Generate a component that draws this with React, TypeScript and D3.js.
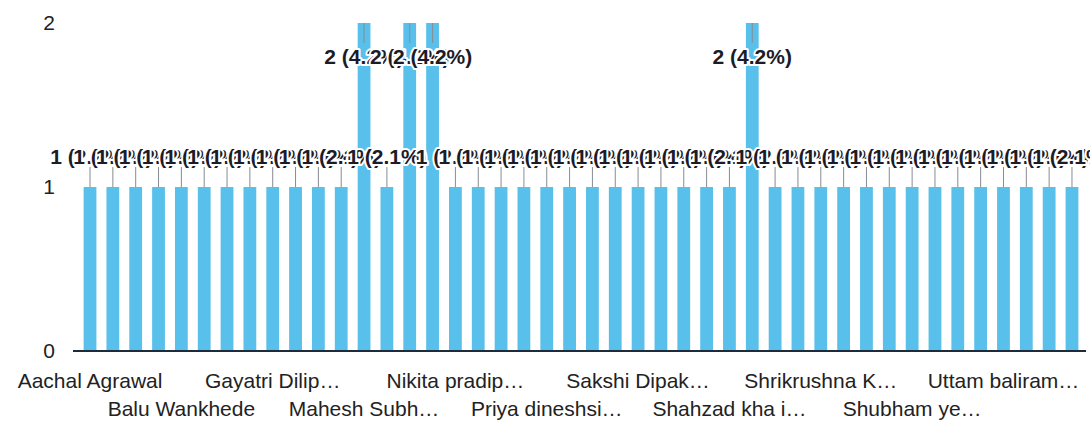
import React, { useEffect, useRef } from "react";
import * as d3 from "d3";

// one bar per person, only every 4th name is shown on the axis
const counts = [
  1, 1, 1, 1, 1, 1, 1, 1, 1, 1, 1, 1, 2, 1, 2, 2, 1, 1, 1, 1, 1, 1,
  1, 1, 1, 1, 1, 1, 1, 2, 1, 1, 1, 1, 1, 1, 1, 1, 1, 1, 1, 1, 1, 1,
];
const tickLabels = [
  "Aachal Agrawal",
  "Balu Wankhede",
  "Gayatri Dilip…",
  "Mahesh Subh…",
  "Nikita pradip…",
  "Priya dineshsi…",
  "Sakshi Dipak…",
  "Shahzad kha i…",
  "Shrikrushna K…",
  "Shubham ye…",
  "Uttam baliram…",
];
const yTicks = [0, 1, 2];

const App = () => {
  const svgRef = useRef<SVGSVGElement>(null);

  useEffect(() => {
    const width = 1090, height = 423;
    const font = "'Liberation Sans', Arial, sans-serif";
    const total = d3.sum(counts);

    const svg = d3.select(svgRef.current)
      .attr("width", width)
      .attr("height", height);

    svg.selectAll("*").remove();

    const x = d3.scaleBand<number>()
      .domain(d3.range(counts.length))
      .range([78.6, 1083.4])
      .paddingInner(0.44)
      .paddingOuter(0.22);

    const y = d3.scaleLinear()
      .domain([0, 2])
      .range([351, 23]);

    // y axis: just the numbers
    const yAxis = svg.append("g")
      .attr("transform", "translate(62,0)")
      .call(d3.axisLeft(y).tickValues(yTicks).tickFormat(d3.format("d")).tickSize(0).tickPadding(7));
    yAxis.select(".domain").remove();
    yAxis.selectAll("text")
      .attr("font-family", font)
      .attr("font-size", 21)
      .attr("fill", "#222");

    // x axis labels, alternating in two rows
    const xAxis = svg.append("g")
      .attr("transform", `translate(0,${y(0)})`)
      .call(d3.axisBottom(x)
        .tickValues(d3.range(0, counts.length, 4))
        .tickFormat((d) => tickLabels[d / 4])
        .tickSize(0));
    xAxis.select(".domain").remove();
    xAxis.selectAll("text")
      .attr("font-family", font)
      .attr("font-size", 21)
      .attr("fill", "#222")
      .attr("dy", null)
      .attr("y", (d: any) => ((d / 4) % 2 === 0 ? 37 : 65));

    svg.append("g")
      .selectAll("rect")
      .data(counts)
      .enter()
      .append("rect")
      .attr("x", (d, i) => x(i)!)
      .attr("y", (d) => y(d))
      .attr("width", x.bandwidth())
      .attr("height", (d) => y(0) - y(d))
      .attr("fill", "#58c0ea");

    // baseline
    svg.append("line")
      .attr("x1", 73)
      .attr("x2", 1086)
      .attr("y1", y(0))
      .attr("y2", y(0))
      .attr("stroke", "#1e2b3a")
      .attr("stroke-width", 2);

    // labels go above the bar, or inside it if there is no room up top
    const inside = (d: number) => y(d) - 40 < 0;
    const cx = (i: number) => x(i)! + x.bandwidth() / 2;

    svg.append("g")
      .selectAll("line")
      .data(counts)
      .enter()
      .append("line")
      .attr("x1", (d, i) => cx(i))
      .attr("x2", (d, i) => cx(i))
      .attr("y1", (d) => (inside(d) ? y(d) : y(d) - 20))
      .attr("y2", (d) => (inside(d) ? y(d) + 20 : y(d)))
      .attr("stroke", "#878c93")
      .attr("stroke-width", 1);

    svg.append("g")
      .selectAll("text")
      .data(counts)
      .enter()
      .append("text")
      .attr("x", (d, i) => cx(i))
      .attr("y", (d) => (inside(d) ? y(d) + 41 : y(d) - 23))
      .attr("text-anchor", "middle")
      .attr("font-family", font)
      .attr("font-size", 21)
      .attr("font-weight", "bold")
      .attr("fill", "#1c1c28")
      .attr("stroke", "#fff")
      .attr("stroke-width", 4)
      .attr("stroke-linejoin", "round")
      .attr("paint-order", "stroke")
      .text((d) => `${d} (${((d / total) * 100).toFixed(1)}%)`);
  }, []);

  return (
    <svg ref={svgRef} style={{ position: "absolute", left: 0, top: 0, background: "#fff" }}></svg>
  );
};

export default App;
